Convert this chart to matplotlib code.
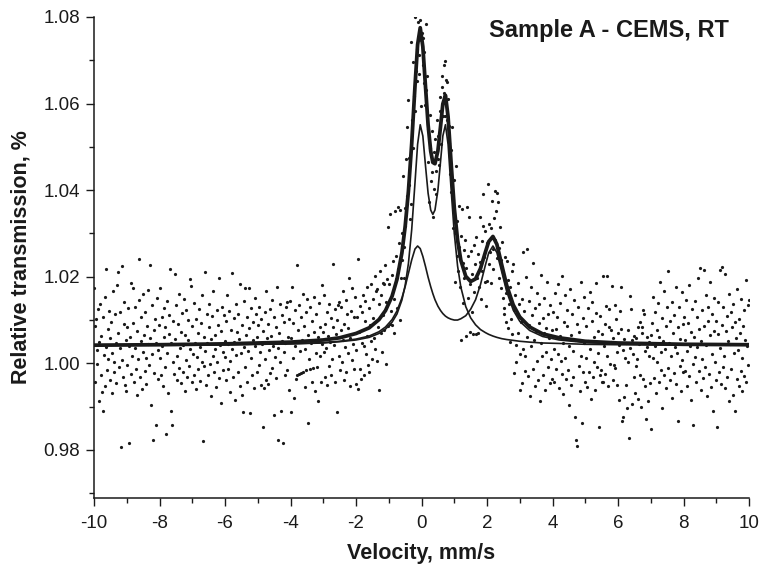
"""
CEMS Moessbauer spectrum of sample A at room temperature:
measured points plus the fitted envelope and its two doublet components.
Output: out.png
"""

import numpy as np
import matplotlib.pyplot as plt
from matplotlib.ticker import MultipleLocator, FormatStrFormatter

plt.rcParams['font.family'] = ['Liberation Sans', 'DejaVu Sans']
plt.rcParams['axes.unicode_minus'] = False

# ── Measured spectrum: relative transmission per channel, -10 → +10 mm/s ──
trans = [
    # -10 .. -9
    1.0173, 1.0086, 0.9957, 1.0102, 1.0031, 0.9998, 1.0125, 0.9914, 1.0049, 1.0138,
    0.9972, 1.0064, 0.9933, 0.9890, 1.0107, 1.0019, 0.9947, 1.0153, 1.0038, 1.0217,
    0.9985, 1.0079, 1.0011, 1.0122, 0.9961, 1.0058, 1.0096, 0.9932, 1.0024, 1.0167,
    1.0004, 0.9979, 1.0113, 1.0047, 0.9954, 1.0180, 1.0069, 1.0210, 0.9991, 1.0036,
    1.0118, 0.9807, 1.0224, 1.0007, 0.9968, 1.0092, 1.0141, 0.9949, 1.0055, 0.9935,
    # -9 .. -8
    1.0083, 0.9996, 1.0127, 1.0041, 0.9817, 1.0062, 1.0185, 0.9975, 1.0018, 1.0175,
    1.0093, 0.9958, 1.0036, 1.0131, 0.9987, 0.9927, 1.0074, 1.0009, 1.0146, 1.0242,
    0.9969, 1.0052, 1.0108, 0.9941, 1.0027, 1.0159, 1.0066, 0.9983, 1.0119, 1.0013,
    0.9952, 1.0087, 1.0044, 1.0170, 0.9996, 1.0227, 1.0058, 0.9904, 1.0135, 1.0021,
    0.9824, 1.0076, 0.9978, 1.0103, 0.9857, 1.0048, 1.0152, 0.9965, 1.0031, 1.0089,
    # -8 .. -7
    1.0175, 1.0012, 0.9973, 1.0106, 1.0039, 0.9947, 1.0128, 1.0061, 0.9992, 1.0084,
    0.9838, 1.0143, 1.0025, 0.9931, 1.0068, 1.0111, 1.0217, 0.9891, 1.0046, 0.9858,
    1.0097, 1.0003, 0.9976, 1.0206, 1.0057, 1.0134, 0.9962, 1.0018, 1.0092, 0.9989,
    1.0161, 1.0035, 0.9954, 1.0073, 1.0117, 0.9981, 1.0042, 1.0148, 0.9937, 1.0065,
    1.0008, 1.0124, 0.9969, 1.0053, 1.0099, 0.9995, 1.0032, 1.0194, 1.0178, 0.9958,
    # -7 .. -6
    1.0087, 1.0021, 0.9974, 1.0139, 1.0046, 0.9941, 1.0102, 1.0015, 1.0071, 0.9986,
    1.0126, 1.0038, 0.9959, 1.0094, 1.0004, 1.0157, 0.9820, 1.0062, 0.9993, 1.0211,
    1.0029, 0.9951, 1.0115, 1.0048, 0.9972, 1.0083, 1.0136, 0.9998, 1.0057, 0.9925,
    1.0109, 1.0017, 1.0168, 0.9979, 1.0066, 1.0034, 0.9946, 1.0123, 1.0002, 1.0089,
    1.0196, 0.9967, 1.0043, 1.0075, 0.9909, 1.0131, 1.0026, 0.9984, 1.0112, 1.0051,
    # -6 .. -5
    1.0014, 1.0097, 0.9962, 1.0158, 1.0045, 0.9987, 1.0121, 1.0006, 0.9934, 1.0078,
    1.0209, 1.0032, 0.9968, 1.0104, 1.0049, 0.9915, 1.0137, 1.0019, 1.0072, 0.9979,
    1.0115, 1.0056, 0.9948, 1.0183, 1.0024, 0.9926, 1.0089, 0.9887, 1.0143, 1.0037,
    1.0173, 0.9991, 1.0066, 1.0108, 0.9957, 1.0028, 1.0173, 1.0081, 0.9885, 1.0012,
    1.0127, 0.9973, 1.0053, 1.0095, 0.9942, 1.0150, 1.0039, 1.0114, 0.9981, 1.0062,
    # -5 .. -4
    1.0088, 0.9996, 1.0131, 1.0027, 0.9951, 1.0102, 1.0045, 0.9853, 1.0074, 0.9943,
    1.0118, 1.0009, 1.0166, 0.9961, 1.0058, 0.9952, 1.0092, 1.0031, 0.9978, 1.0125,
    1.0063, 1.0146, 0.9989, 1.0041, 0.9881, 1.0107, 1.0015, 0.9967, 1.0083, 1.0176,
    1.0036, 0.9824, 1.0069, 1.0004, 1.0138, 0.9889, 1.0052, 1.0112, 0.9817, 1.0026,
    1.0095, 0.9972, 1.0047, 1.0129, 1.0142, 0.9985, 1.0061, 0.9938, 1.0103, 1.0144,
    # -4 .. -3
    0.9887, 1.0058, 1.0176, 1.0012, 1.0094, 0.9919, 1.0041, 1.0123, 0.9965, 1.0227,
    0.9972, 1.0078, 1.0135, 0.9975, 1.0029, 1.0106, 0.9978, 1.0054, 1.0161, 0.9981,
    1.0087, 0.9945, 1.0032, 1.0119, 0.9984, 1.0148, 1.0066, 0.9862, 1.0009, 0.9987,
    1.0131, 1.0047, 0.9958, 1.0098, 0.9989, 1.0072, 1.0154, 0.9936, 1.0025, 1.0113,
    0.9991, 1.0062, 0.9913, 1.0139, 1.0018, 1.0084, 0.9956, 1.0044, 1.0181, 1.0073,
    # -3 .. -2
    1.0026, 1.0157, 0.9968, 1.0092, 1.0035, 0.9951, 1.0118, 1.0064, 0.9993, 1.0137,
    1.0049, 0.9972, 1.0105, 1.0011, 1.0083, 1.0229, 1.0042, 0.9957, 1.0126, 1.0067,
    0.9888, 1.0099, 1.0134, 1.0018, 1.0141, 0.9984, 1.0076, 1.0129, 1.0002, 1.0055,
    1.0168, 0.9962, 1.0091, 1.0038, 1.0147, 0.9979, 1.0113, 1.0024, 1.0081, 1.0196,
    0.9947, 1.0059, 1.0122, 1.0008, 1.0174, 1.0045, 0.9986, 1.0108, 1.0153, 1.0031,
    # -2 .. -1
    0.9952, 1.0108, 1.0240, 0.9941, 1.0073, 1.0132, 0.9987, 0.9963, 1.0119, 1.0046,
    1.0158, 1.0039, 0.9974, 1.0097, 1.0143, 1.0021, 1.0176, 1.0064, 0.9996, 0.9981,
    1.0127, 1.0089, 1.0183, 1.0052, 1.0011, 1.0149, 1.0104, 1.0058, 1.0201, 1.0032,
    1.0167, 1.0005, 1.0172, 1.0084, 0.9938, 1.0136, 1.0213, 1.0069, 1.0158, 1.0027,
    1.0185, 1.0112, 1.0183, 1.0078, 1.0226, 1.0141, 0.9998, 1.0194, 1.0087, 1.0314,
    # -1 .. 0
    1.0184, 1.0092, 1.0345, 1.0121, 1.0203, 1.0088, 1.0236, 1.0149, 1.0070, 1.0352,
    1.0194, 1.0247, 1.0128, 1.0361, 1.0219, 1.0279, 1.0100, 1.0354, 1.0196, 1.0301,
    1.0238, 1.0433, 1.0269, 1.0197, 1.0358, 1.0317, 1.0472, 1.0386, 1.0545, 1.0609,
    1.0412, 1.0474, 1.0333, 1.0742, 1.0368, 1.0563, 1.0498, 1.0695, 1.0617, 1.0583,
    1.0799, 1.0674, 1.0726, 1.0651, 1.0788, 1.0712, 1.0668, 1.0793, 1.0594, 1.0746,
    # 0 .. 1
    1.0762, 1.0689, 1.0751, 1.0647, 1.0718, 1.0596, 1.0784, 1.0631, 1.0664, 1.0542,
    1.0464, 1.0372, 1.0573, 1.0498, 1.0421, 1.0536, 1.0441, 1.0337, 1.0489, 1.0402,
    1.0517, 1.0445, 1.0391, 1.0562, 1.0473, 1.0526, 1.0458, 1.0583, 1.0614, 1.0507,
    1.0638, 1.0664, 1.0571, 1.0689, 1.0625, 1.0572, 1.0699, 1.0654, 1.0649, 1.0563,
    1.0611, 1.0509, 1.0548, 1.0437, 1.0492, 1.0396, 1.0545, 1.0378, 1.0312, 1.0423,
    # 1 .. 2
    1.0188, 1.0301, 1.0456, 1.0247, 1.0329, 1.0213, 1.0364, 1.0268, 1.0177, 1.0294,
    1.0055, 1.0357, 1.0231, 1.0139, 1.0262, 1.0196, 1.0284, 1.0063, 1.0221, 1.0362,
    1.0152, 1.0247, 1.0337, 1.0072, 1.0183, 1.0259, 1.0118, 1.0206, 1.0068, 1.0273,
    1.0164, 1.0229, 1.0291, 1.0067, 1.0198, 1.0252, 1.0071, 1.0176, 1.0337, 1.0234,
    1.0149, 1.0282, 1.0213, 1.0318, 1.0392, 1.0246, 1.0187, 1.0305, 1.0132, 1.0190,
    # 2 .. 3
    1.0277, 1.0414, 1.0229, 1.0321, 1.0258, 1.0186, 1.0312, 1.0375, 1.0264, 1.0219,
    1.0336, 1.0398, 1.0285, 1.0352, 1.0243, 1.0394, 1.0372, 1.0198, 1.0267, 1.0315,
    1.0174, 1.0238, 1.0281, 1.0152, 1.0209, 1.0127, 1.0114, 1.0246, 1.0095, 1.0163,
    1.0237, 1.0081, 1.0192, 1.0138, 1.0049, 1.0176, 1.0102, 1.0213, 1.0067, 1.0230,
    0.9977, 1.0124, 1.0158, 1.0043, 1.0003, 1.0117, 1.0185, 1.0069, 1.0136, 1.0021,
    # 3 .. 4
    0.9938, 1.0096, 0.9955, 1.0148, 1.0257, 1.0034, 1.0121, 0.9982, 1.0017, 1.0199,
    1.0265, 1.0062, 0.9971, 1.0143, 1.0088, 0.9924, 1.0176, 1.0039, 1.0112, 0.9987,
    1.0231, 1.0054, 0.9948, 1.0127, 1.0075, 1.0006, 1.0162, 0.9961, 1.0093, 1.0138,
    0.9912, 1.0047, 1.0204, 1.0016, 1.0104, 0.9973, 1.0069, 1.0151, 0.9939, 1.0082,
    1.0027, 1.0187, 0.9992, 1.0113, 1.0058, 0.9954, 1.0134, 1.0011, 1.0076, 0.9965,
    # 4 .. 5
    1.0118, 1.0034, 0.9957, 1.0162, 1.0079, 0.9988, 1.0107, 1.0021, 1.0184, 0.9942,
    1.0063, 1.0139, 1.0005, 0.9976, 1.0201, 1.0048, 0.9929, 1.0095, 1.0157, 1.0012,
    0.9963, 1.0086, 1.0124, 0.9985, 1.0041, 0.9904, 1.0171, 1.0066, 0.9951, 1.0113,
    1.0029, 0.9968, 1.0146, 0.9877, 1.0054, 0.9824, 1.0092, 0.9808, 1.0131, 0.9993,
    1.0072, 0.9936, 1.0189, 1.0017, 0.9862, 1.0104, 0.9979, 1.0046, 1.0153, 0.9958,
    # 5 .. 6
    1.0087, 1.0013, 0.9946, 1.0128, 1.0052, 0.9981, 1.0165, 1.0034, 0.9917, 1.0098,
    1.0141, 0.9969, 1.0061, 1.0003, 0.9938, 1.0117, 1.0186, 0.9992, 1.0075, 1.0024,
    0.9852, 1.0109, 0.9973, 0.9985, 0.9958, 1.0067, 1.0202, 0.9956, 1.0039, 1.0091,
    0.9975, 1.0132, 1.0018, 1.0202, 0.9947, 1.0083, 1.0126, 0.9998, 1.0077, 1.0049,
    1.0179, 0.9962, 1.0058, 0.9996, 1.0135, 0.9990, 1.0102, 1.0026, 0.9951, 1.0071,
    # 6 .. 7
    0.9915, 1.0042, 1.0120, 1.0079, 1.0177, 0.9866, 0.9875, 1.0031, 0.9923, 1.0056,
    1.0012, 0.9951, 1.0048, 0.9898, 1.0077, 1.0004, 0.9828, 1.0156, 1.0036, 1.0125,
    0.9907, 1.0053, 1.0021, 1.0064, 0.9969, 0.9932, 0.9993, 1.0058, 1.0009, 0.9918,
    1.0084, 1.0045, 0.9973, 1.0095, 0.9900, 1.0083, 1.0071, 1.0123, 0.9965, 1.0115,
    0.9948, 1.0028, 0.9871, 1.0061, 1.0037, 0.9912, 1.0049, 1.0018, 0.9954, 1.0066,
    # 7 .. 8
    0.9849, 1.0093, 1.0012, 1.0154, 0.9966, 1.0041, 1.0118, 0.9931, 1.0076, 1.0003,
    1.0139, 0.9958, 1.0062, 1.0187, 0.9984, 1.0027, 0.9896, 1.0105, 1.0051, 0.9972,
    1.0168, 1.0034, 0.9943, 1.0087, 1.0129, 0.9989, 1.0213, 1.0046, 0.9961, 1.0098,
    1.0016, 0.9921, 1.0142, 1.0069, 0.9977, 1.0111, 1.0038, 0.9952, 1.0176, 1.0023,
    0.9868, 1.0085, 1.0131, 0.9994, 1.0057, 0.9937, 1.0164, 1.0008, 1.0092, 0.9979,
    # 8 .. 9
    1.0107, 0.9982, 1.0053, 1.0146, 0.9947, 1.0028, 1.0094, 0.9971, 1.0182, 1.0039,
    0.9915, 1.0072, 1.0125, 0.9998, 0.9858, 1.0061, 1.0143, 1.0014, 0.9956, 1.0108,
    1.0037, 1.0196, 0.9983, 1.0079, 1.0221, 0.9938, 1.0052, 1.0124, 1.0009, 0.9967,
    1.0215, 1.0086, 0.9992, 1.0158, 1.0043, 0.9924, 1.0097, 1.0131, 0.9975, 1.0066,
    1.0188, 0.9946, 1.0021, 1.0114, 0.9889, 1.0075, 1.0152, 1.0004, 0.9961, 1.0098,
    # 9 .. 10
    0.9853, 1.0067, 1.0142, 0.9979, 1.0215, 1.0036, 0.9952, 1.0223, 1.0089, 0.9991,
    1.0129, 1.0018, 1.0207, 0.9943, 1.0074, 1.0109, 0.9968, 1.0052, 1.0161, 0.9912,
    1.0045, 1.0118, 0.9986, 1.0083, 0.9927, 1.0137, 1.0024, 0.9891, 1.0096, 1.0058,
    0.9964, 1.0172, 1.0031, 0.9948, 1.0103, 1.0069, 0.9983, 1.0148, 1.0012, 0.9936,
    1.0087, 1.0124, 0.9971, 1.0055, 1.0193, 0.9958, 1.0041, 1.0135, 0.9997, 1.0146,
]

# ── Fitted curves ─────────────────────────────────────────────────────
fit_v = [-10, -8, -6, -4, -3, -2.5, -2, -1.6, -1.3, -1.1, -0.9, -0.75, -0.6,
         -0.5, -0.4, -0.3, -0.2, -0.12, -0.04, 0.04, 0.12, 0.2, 0.28, 0.345,
         0.41, 0.5, 0.58, 0.65, 0.73, 0.81, 0.9, 1.0, 1.1, 1.2, 1.35, 1.5,
         1.65, 1.8, 1.95, 2.05, 2.18, 2.3, 2.45, 2.6, 2.8, 3.0, 3.3, 3.7,
         4.2, 5, 6, 8, 10]
fit_total = [1.0042, 1.0043, 1.0045, 1.0049, 1.0054, 1.0059, 1.0069, 1.0082,
             1.0101, 1.0122, 1.0155, 1.0194, 1.0255, 1.0316, 1.0398, 1.0508,
             1.0640, 1.0736, 1.0775, 1.0731, 1.0640, 1.0551, 1.0490, 1.0464,
             1.0461, 1.0491, 1.0547, 1.0599, 1.0619, 1.0570, 1.0466, 1.0359,
             1.0285, 1.0238, 1.0201, 1.0189, 1.0195, 1.0219, 1.0257, 1.0281,
             1.0293, 1.0275, 1.0227, 1.0180, 1.0135, 1.0107, 1.0084, 1.0068,
             1.0059, 1.0051, 1.0047, 1.0044, 1.0043]
fit_doublet1 = [1.0042, 1.0042, 1.0043, 1.0045, 1.0047, 1.0050, 1.0054, 1.0060,
                1.0069, 1.0079, 1.0095, 1.0114, 1.0146, 1.0180, 1.0231, 1.0309,
                1.0417, 1.0506, 1.0551, 1.0525, 1.0457, 1.0393, 1.0354, 1.0344,
                1.0354, 1.0400, 1.0466, 1.0525, 1.0551, 1.0506, 1.0405, 1.0300,
                1.0225, 1.0176, 1.0131, 1.0105, 1.0089, 1.0078, 1.0071, 1.0067,
                1.0063, 1.0060, 1.0057, 1.0055, 1.0053, 1.0051, 1.0049, 1.0047,
                1.0046, 1.0044, 1.0043, 1.0042, 1.0042]
fit_doublet2 = [1.0042, 1.0042, 1.0043, 1.0045, 1.0048, 1.0051, 1.0056, 1.0063,
                1.0073, 1.0084, 1.0101, 1.0121, 1.0151, 1.0177, 1.0208, 1.0239,
                1.0264, 1.0271, 1.0265, 1.0247, 1.0224, 1.0199, 1.0177, 1.0161,
                1.0147, 1.0132, 1.0122, 1.0115, 1.0109, 1.0105, 1.0102, 1.0100,
                1.0100, 1.0103, 1.0110, 1.0125, 1.0147, 1.0182, 1.0227, 1.0255,
                1.0271, 1.0256, 1.0211, 1.0166, 1.0123, 1.0097, 1.0076, 1.0062,
                1.0054, 1.0048, 1.0045, 1.0043, 1.0042]

velocity = np.linspace(-10, 10, len(trans))

# ══════════════════════════════════════════════════════════════════════
# PLOT
# ══════════════════════════════════════════════════════════════════════
ink = '#1a1a1a'
fig = plt.figure(figsize=(7.62, 5.66), dpi=100)
ax = fig.add_axes([0.1234, 0.1201, 0.8596, 0.8500])

ax.plot(velocity, trans, 'o', ms=2.3, color=ink, mec='none', zorder=2)
ax.plot(fit_v, fit_doublet2, color=ink, lw=1.2, zorder=3)
ax.plot(fit_v, fit_doublet1, color=ink, lw=1.2, zorder=3)
ax.plot(fit_v, fit_total, color=ink, lw=2.7, zorder=4)

ax.set_xlim(-10, 10)
ax.set_ylim(0.9689, 1.08)

ax.xaxis.set_major_locator(MultipleLocator(2))
ax.xaxis.set_minor_locator(MultipleLocator(1))
ax.yaxis.set_major_locator(MultipleLocator(0.02))
ax.yaxis.set_minor_locator(MultipleLocator(0.01))
ax.yaxis.set_major_formatter(FormatStrFormatter('%.2f'))

for side in ('top', 'right'):
    ax.spines[side].set_visible(False)
for side in ('left', 'bottom'):
    ax.spines[side].set_linewidth(1.1)
    ax.spines[side].set_color(ink)

ax.tick_params(which='major', direction='out', length=6, width=1.0,
               labelsize=13.5, colors=ink, pad=4)
ax.tick_params(axis='x', which='major', pad=6)
ax.tick_params(which='minor', direction='out', length=3.5, width=1.0, colors=ink)

ax.set_xlabel('Velocity, mm/s', fontsize=15.5, fontweight='bold', color=ink, labelpad=8)
ax.set_ylabel('Relative transmission, %', fontsize=15.5, fontweight='bold', color=ink, labelpad=9)

ax.text(0.969, 0.971, 'Sample A - CEMS, RT', transform=ax.transAxes,
        ha='right', va='center', fontsize=17, fontweight='bold', color=ink)

fig.savefig('out.png', dpi=100, facecolor='white')
